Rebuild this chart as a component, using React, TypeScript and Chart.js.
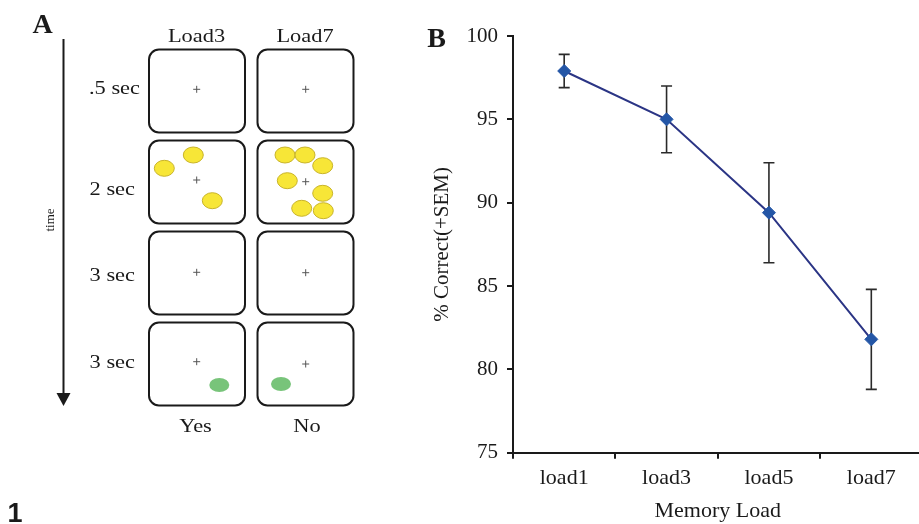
import React, { useEffect, useRef } from "react";
import { Chart, registerables } from "chart.js";

Chart.register(...registerables);

// ---- Panel B data ----
const categories = ["load1", "load3", "load5", "load7"];
const percentCorrect = [97.9, 95.0, 89.4, 81.8];
const semValues = [1.0, 2.0, 3.0, 3.0];
const yMin = 75;
const yMax = 100;
const yStep = 5;

// ---- Panel A content ----
const columnHeaders = ["Load3", "Load7"];
const rowLabels = [".5 sec", "2 sec", "3 sec", "3 sec"];
const responseLabels = ["Yes", "No"];

const SERIF = "'Liberation Serif', 'Times New Roman', serif";
const SANS = "'Liberation Sans', Arial, sans-serif";

const errorBarPlugin = {
  id: "errorBars",
  beforeDatasetsDraw(chart: any) {
    const { ctx } = chart;
    const xs = chart.scales.x;
    const ys = chart.scales.y;
    const ds = chart.data.datasets[0];
    const errs: number[] = ds.errors || [];
    ctx.save();
    ctx.strokeStyle = "#2a2a2a";
    ctx.lineWidth = 1.6;
    (ds.data as number[]).forEach((v, i) => {
      const e = errs[i] || 0;
      const px = xs.getPixelForValue(i);
      const top = ys.getPixelForValue(v + e);
      const bot = ys.getPixelForValue(v - e);
      ctx.beginPath();
      ctx.moveTo(px, top);
      ctx.lineTo(px, bot);
      ctx.moveTo(px - 5.5, top);
      ctx.lineTo(px + 5.5, top);
      ctx.moveTo(px - 5.5, bot);
      ctx.lineTo(px + 5.5, bot);
      ctx.stroke();
    });
    ctx.restore();
  },
};

function ChartB() {
  const ref = useRef<HTMLCanvasElement | null>(null);
  useEffect(() => {
    if (!ref.current) return;
    const chart = new Chart(ref.current, {
      type: "line",
      data: {
        labels: categories,
        datasets: [
          {
            data: percentCorrect,
            errors: semValues,
            borderColor: "#2b3585",
            borderWidth: 2,
            pointStyle: "rectRot",
            pointRadius: 6.5,
            pointBackgroundColor: "#2456a6",
            pointBorderColor: "#2456a6",
            pointBorderWidth: 1,
            tension: 0,
          } as any,
        ],
      },
      options: {
        animation: false,
        responsive: true,
        maintainAspectRatio: false,
        layout: { padding: { top: 36, right: 6.4, left: 0, bottom: 0 } },
        plugins: {
          legend: { display: false },
          tooltip: { enabled: false },
        },
        scales: {
          x: {
            type: "category",
            offset: true,
            afterFit: (s: any) => {
              s.height = 71.3;
            },
            grid: {
              offset: true,
              drawOnChartArea: false,
              drawTicks: true,
              tickLength: 6,
              color: "#1a1a1a",
              lineWidth: 2,
            },
            border: { display: true, color: "#1a1a1a", width: 2 },
            ticks: {
              color: "#1a1a1a",
              padding: 6,
              font: { family: SERIF, size: 22 },
              maxRotation: 0,
            },
            title: {
              display: true,
              text: "Memory Load",
              color: "#1a1a1a",
              font: { family: SERIF, size: 22 },
              padding: { top: 0, bottom: 0 },
            },
          },
          y: {
            min: yMin,
            max: yMax,
            afterFit: (s: any) => {
              s.width = 93;
            },
            ticks: {
              stepSize: yStep,
              color: "#1a1a1a",
              padding: 9,
              font: { family: SERIF, size: 21 },
            },
            grid: {
              drawOnChartArea: false,
              drawTicks: true,
              tickLength: 6,
              color: "#1a1a1a",
              lineWidth: 2,
            },
            border: { display: true, color: "#1a1a1a", width: 2 },
            title: {
              display: true,
              text: "% Correct(+SEM)",
              color: "#1a1a1a",
              font: { family: SERIF, size: 21 },
              padding: { top: 10, bottom: 0 },
            },
          },
        },
      },
      plugins: [errorBarPlugin],
    } as any);
    return () => chart.destroy();
  }, []);
  return (
    <div style={{ position: "absolute", left: 420, top: 0, width: 510, height: 524 }}>
      <canvas ref={ref} />
    </div>
  );
}

function ST(props: {
  x: number;
  y: number;
  size: number;
  anchor?: string;
  sx?: number;
  weight?: string;
  family?: string;
  rotate?: number;
  children: any;
}) {
  const { x, y, size, anchor = "middle", sx = 1.18, weight = "normal", family = SERIF, rotate = 0 } = props;
  return (
    <text
      transform={`translate(${x},${y}) rotate(${rotate}) scale(${sx},1)`}
      fontSize={size}
      textAnchor={anchor as any}
      fontWeight={weight}
      fontFamily={family}
      fill="#1a1a1a"
    >
      {props.children}
    </text>
  );
}

function Cross({ x, y }: { x: number; y: number }) {
  return (
    <g stroke="#555" strokeWidth={1}>
      <line x1={x - 3.5} y1={y} x2={x + 3.5} y2={y} />
      <line x1={x} y1={y - 3.5} x2={x} y2={y + 3.5} />
    </g>
  );
}

function PanelA() {
  const colX = [149, 257.5];
  const boxW = 96;
  const rowY = [49.5, 140.5, 231.5, 322.5];
  const boxH = 83;
  const rowBase = [94, 194.5, 280.5, 368];
  const rowRight = [140, 135, 135, 135];
  const crosses = [
    [196.7, 89.3], [305.7, 89.3],
    [196.7, 180], [305.7, 181.7],
    [196.7, 272.3], [305.7, 272.7],
    [196.7, 361.7], [305.7, 364],
  ];
  const yellow3 = [
    [164.3, 168.3], [193.3, 155], [212.3, 200.7],
  ];
  const yellow7 = [
    [285, 155], [305, 155], [322.7, 165.7], [287.3, 180.7],
    [322.7, 193.3], [301.7, 208.3], [323.3, 210.7],
  ];
  const green = [
    [219.3, 385], [281, 384],
  ];
  return (
    <svg
      width={919}
      height={524}
      style={{ position: "absolute", left: 0, top: 0, pointerEvents: "none" }}
    >
      <ST x={42.5} y={33} size={28} weight="bold" sx={1}>A</ST>
      <ST x={436.5} y={47} size={28} weight="bold" sx={1}>B</ST>
      <ST x={15} y={522} size={27} weight="bold" family={SANS} sx={1}>1</ST>

      <line x1={63.5} y1={39} x2={63.5} y2={396} stroke="#1a1a1a" strokeWidth={2} />
      <polygon points="56.5,393 70.5,393 63.5,406" fill="#1a1a1a" />
      <ST x={53.5} y={220} size={13} rotate={-90} sx={1}>time</ST>

      {columnHeaders.map((h, i) => (
        <ST key={h} x={colX[i] + boxW / 2 - 0.5} y={42} size={19}>{h}</ST>
      ))}
      {rowLabels.map((r, i) => (
        <ST key={i} x={rowRight[i]} y={rowBase[i]} size={19} anchor="end">{r}</ST>
      ))}
      {rowY.map((ry, ri) =>
        colX.map((cx, ci) => (
          <rect
            key={`${ri}-${ci}`}
            x={cx}
            y={ry}
            width={boxW}
            height={boxH}
            rx={10}
            ry={10}
            fill="#fff"
            stroke="#1a1a1a"
            strokeWidth={2}
          />
        ))
      )}
      {crosses.map(([x, y], i) => (
        <Cross key={i} x={x} y={y} />
      ))}
      {[...yellow3, ...yellow7].map(([x, y], i) => (
        <ellipse key={i} cx={x} cy={y} rx={10} ry={8} fill="#f7e637" stroke="#c9b42a" strokeWidth={1} />
      ))}
      {green.map(([x, y], i) => (
        <ellipse key={i} cx={x} cy={y} rx={10} ry={7} fill="#78c47a" />
      ))}
      {responseLabels.map((r, i) => (
        <ST key={r} x={colX[i] + boxW / 2 - (i === 0 ? 1.5 : -1.5)} y={431.5} size={19}>{r}</ST>
      ))}
    </svg>
  );
}

export default function App() {
  return (
    <div
      style={{
        position: "fixed",
        left: 0,
        top: 0,
        width: 919,
        height: 524,
        overflow: "hidden",
        background: "#fff",
      }}
    >
      <ChartB />
      <PanelA />
    </div>
  );
}
